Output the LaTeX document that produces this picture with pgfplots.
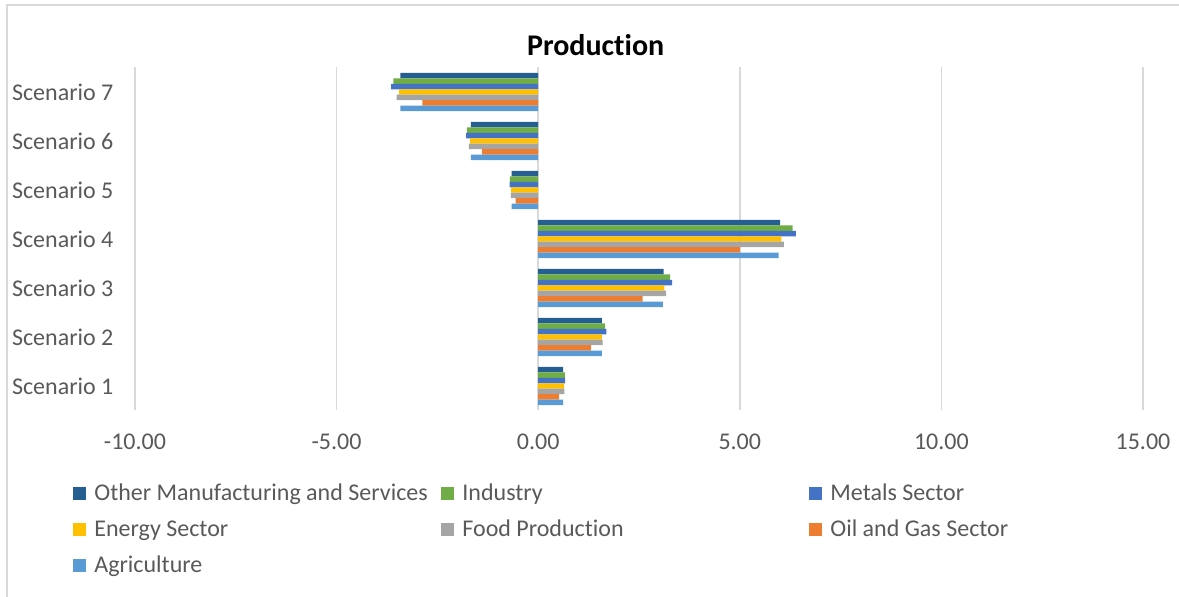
\documentclass[border=0pt]{standalone}
\usepackage{fontspec}
\setmainfont{Carlito}[Ligatures={NoCommon}]
\usepackage{pgfplots}
\pgfplotsset{compat=1.18}

\definecolor{txtgray}{HTML}{595959}
\definecolor{gridgray}{HTML}{D9D9D9}
\definecolor{cOther}{HTML}{255E91}
\definecolor{cInd}{HTML}{70AD47}
\definecolor{cMet}{HTML}{4472C4}
\definecolor{cEne}{HTML}{FFC000}
\definecolor{cFood}{HTML}{A5A5A5}
\definecolor{cOil}{HTML}{ED7D31}
\definecolor{cAgri}{HTML}{5B9BD5}

\newcommand{\lgd}[1]{\makebox[173.5pt][l]{\hspace{2pt}#1}}

\begin{document}
\begin{tikzpicture}
\useasboundingbox (0,0) rectangle (589.5pt,298.5pt);
\draw[gridgray, line width=0.75pt] (3.5pt,0) -- (3.5pt,296pt) -- (589.5pt,296pt);
\begin{axis}[
    at={(67.5pt,93.25pt)}, anchor=south west,
    scale only axis,
    width=504pt, height=171.5pt,
    xbar, bar width=0.111,
    xmin=-10, xmax=15,
    ymin=0.5, ymax=7.5,
    xtick={-10,-5,0,5,10,15},
    ytick={1,2,3,4,5,6,7},
    yticklabels={Scenario 1,Scenario 2,Scenario 3,Scenario 4,Scenario 5,Scenario 6,Scenario 7},
    axis line style={draw=none},
    xmajorgrids,
    major grid style={gridgray, line width=0.75pt},
    tick style={draw=none},
    xticklabel style={font=\fontsize{12}{14}\selectfont, text=txtgray, yshift=-8pt},
    yticklabel style={font=\fontsize{12}{14}\selectfont, text=txtgray, xshift=-3pt},
    /pgf/number format/.cd, fixed, fixed zerofill, precision=2, assume math mode=true,
    /pgfplots/.cd,
    title={Production},
    title style={font=\bfseries\fontsize{15}{18}\selectfont, at={(0.457,1.031)}, anchor=center},
    legend columns=3,
    legend style={at={(-0.0615,-0.201)}, anchor=north west, draw=none, fill=none,
        font=\fontsize{12}{14}\selectfont, text=txtgray, inner sep=0pt,
        /tikz/every even column/.append style={column sep=0pt},
        /tikz/row sep=4.25pt},
    legend cell align=left,
    legend image code/.code={\fill[#1] (0pt,-3.25pt) rectangle (6.5pt,3.25pt);},
]
\addplot[fill=cOther, draw=none, bar shift=0.333] coordinates {
    (0.62,1) (1.58,2) (3.11,3) (6.00,4) (-0.66,5) (-1.67,6) (-3.42,7)};
\addplot[fill=cInd, draw=none, bar shift=0.222] coordinates {
    (0.66,1) (1.66,2) (3.27,3) (6.31,4) (-0.70,5) (-1.77,6) (-3.59,7)};
\addplot[fill=cMet, draw=none, bar shift=0.111] coordinates {
    (0.67,1) (1.69,2) (3.32,3) (6.39,4) (-0.71,5) (-1.79,6) (-3.65,7)};
\addplot[fill=cEne, draw=none, bar shift=0] coordinates {
    (0.64,1) (1.58,2) (3.13,3) (6.03,4) (-0.67,5) (-1.69,6) (-3.45,7)};
\addplot[fill=cFood, draw=none, bar shift=-0.111] coordinates {
    (0.65,1) (1.60,2) (3.17,3) (6.09,4) (-0.68,5) (-1.72,6) (-3.51,7)};
\addplot[fill=cOil, draw=none, bar shift=-0.222] coordinates {
    (0.52,1) (1.31,2) (2.59,3) (5.00,4) (-0.56,5) (-1.40,6) (-2.87,7)};
\addplot[fill=cAgri, draw=none, bar shift=-0.333] coordinates {
    (0.62,1) (1.58,2) (3.09,3) (5.96,4) (-0.66,5) (-1.67,6) (-3.42,7)};
\legend{\lgd{Other Manufacturing and Services},\lgd{Industry},\lgd{Metals Sector},
        \lgd{Energy Sector},\lgd{Food Production},\lgd{Oil and Gas Sector},
        \lgd{Agriculture}}
\end{axis}
\end{tikzpicture}
\end{document}
